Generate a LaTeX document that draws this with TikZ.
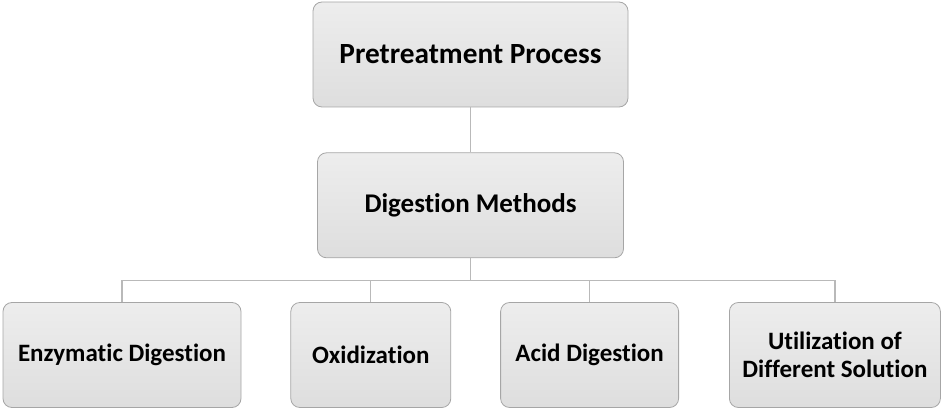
\documentclass[tikz,border=0pt]{standalone}
\usepackage{fontspec}
\setmainfont[Ligatures=NoCommon]{Carlito}
\usetikzlibrary{positioning}

\tikzset{
  procbox/.style={draw=gray!70, line width=0.8pt, rounded corners=9pt,
    top color=gray!14, bottom color=gray!26, minimum height=105pt,
    align=center},
  toptext/.style={font=\fontsize{29.3}{33}\selectfont\bfseries},
  midtext/.style={font=\fontsize{27}{31}\selectfont\bfseries},
  smalltext/.style={font=\fontsize{25}{28}\selectfont\bfseries},
  link/.style={draw=gray!55, line width=1.3pt}
}

\begin{document}
\begin{tikzpicture}[x=1pt,y=1pt]
\useasboundingbox (0,0) rectangle (941,-411);

% Top box
\node[procbox, toptext, minimum width=315pt] (pretreat) at (470.5,-54.5) {Pretreatment Process};

% Digestion box
\node[procbox, midtext,
    minimum width=306pt,
    below=45pt of pretreat
] (digest) {Digestion Methods};

% Methods row
\node[procbox, smalltext, minimum width=238pt] (enzyme) at (122,-355) {Enzymatic Digestion};
\node[procbox, smalltext,
    minimum width=160pt,
    right=49pt of enzyme
] (oxid) {Oxidization};
\node[procbox, smalltext,
    minimum width=178pt,
    right=49pt of oxid
] (acid) {Acid Digestion};
\node[procbox, smalltext,
    minimum width=211pt,
    right=50pt of acid
] (solution) {Utilization of\\Different Solution};

% Connectors
\draw[link] (pretreat.south) -- (digest.north);
\draw[link] (digest.south) -- ++(0,-22) coordinate (split);
\draw[link] (enzyme.north) |- (split) -| (solution.north);
\draw[link] (oxid.north) -- (oxid.north |- split);
\draw[link] (acid.north) -- (acid.north |- split);

\end{tikzpicture}
\end{document}
